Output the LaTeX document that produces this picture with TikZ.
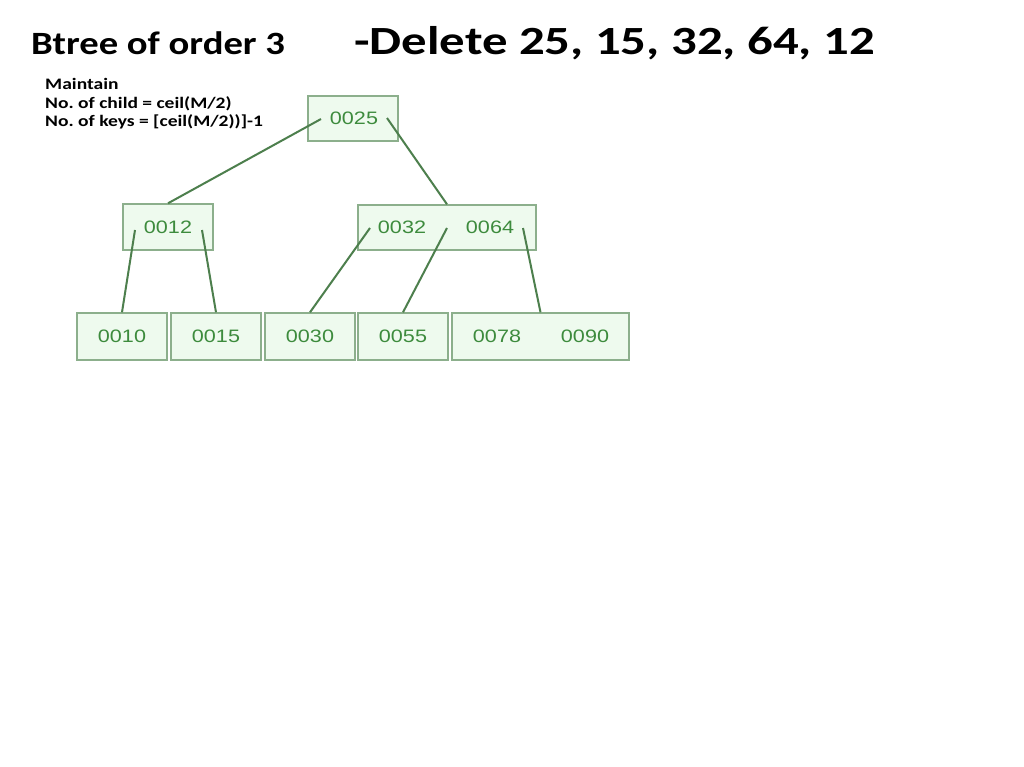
\documentclass[tikz,border=0pt]{standalone}
\usepackage{fontspec}
\setmainfont{Carlito}
\newfontfamily\keyfont{Liberation Sans}
\frenchspacing
\definecolor{boxline}{HTML}{8CAF8C}
\definecolor{boxfill}{HTML}{EEFAEE}
\definecolor{keytext}{HTML}{3D8B3D}
\definecolor{edge}{HTML}{4D7F4D}
\tikzset{
  keybox/.style={draw=boxline, fill=boxfill, line width=1.4pt, rectangle, inner sep=0pt, minimum height=46pt},
  keylabel/.style={text=keytext, font=\keyfont\fontsize{18}{18}\selectfont, inner sep=0pt, xscale=1.2},
  link/.style={draw=edge, line width=2pt},
  titletext/.style={font=\bfseries\fontsize{32.5}{32.5}\selectfont, anchor=base west, inner sep=0pt},
  notetext/.style={font=\bfseries\fontsize{16}{18.5}\selectfont, anchor=north west, inner sep=0pt, align=left, xscale=1.22}
}
\begin{document}
\begin{tikzpicture}[x=1pt,y=-1pt]
\useasboundingbox[fill=white] (0,0) rectangle (1024,767);
% titles
\node[titletext, xscale=1.19] (t1) at (31,55) {Btree of order 3};
\node[titletext, font=\bfseries\fontsize{40}{40}\selectfont, xscale=1.27] (t2) at (354,55) {-Delete 25, 15, 32, 64, 12};
\node[notetext] (note) at (45,78.5) {Maintain\\No. of child = ceil(M/2)\\No. of keys = [ceil(M/2))]-1};
% boxes
\node[keybox, minimum width=90pt, minimum height=45pt] (root) at (353,118.5) {};
\node[keybox, minimum width=90pt] (n12) at (168,227) {};
\node[keybox, minimum width=178pt, minimum height=45pt] (n3264) at (447,227.5) {};
\node[keybox, minimum width=90pt, minimum height=47pt] (l10) at (122,336.5) {};
\node[keybox, minimum width=90pt, minimum height=47pt] (l15) at (216,336.5) {};
\node[keybox, minimum width=90pt, minimum height=47pt] (l30) at (310,336.5) {};
\node[keybox, minimum width=90pt, minimum height=47pt] (l55) at (403,336.5) {};
\node[keybox, minimum width=177pt, minimum height=47pt] (l7890) at (540.5,336.5) {};
% keys
\node[keylabel] (k25) at (354,118) {0025};
\node[keylabel] (k12) at (168,227) {0012};
\node[keylabel] (k32) at (402,227) {0032};
\node[keylabel] (k64) at (490,227) {0064};
\node[keylabel] (k10) at (122,336) {0010};
\node[keylabel] (k15) at (216,336) {0015};
\node[keylabel] (k30) at (310,336) {0030};
\node[keylabel] (k55) at (403,336) {0055};
\node[keylabel] (k78) at (497,336) {0078};
\node[keylabel] (k90) at (585,336) {0090};
% pointer starts
\coordinate (p25a) at (321,119);
\coordinate (p25b) at (387,118);
\coordinate (p12a) at (135,230);
\coordinate (p12b) at (202,230);
\coordinate (p32a) at (370,228);
\coordinate (p32b) at (447,228);
\coordinate (p64b) at (523,228);
% links
\draw[link] (p25a) -- (n12.north);
\draw[link] (p25b) -- (n3264.north);
\draw[link] (p12a) -- (l10.north);
\draw[link] (p12b) -- (l15.north);
\draw[link] (p32a) -- (l30.north);
\draw[link] (p32b) -- (l55.north);
\draw[link] (p64b) -- (l7890.north);
\end{tikzpicture}
\end{document}
